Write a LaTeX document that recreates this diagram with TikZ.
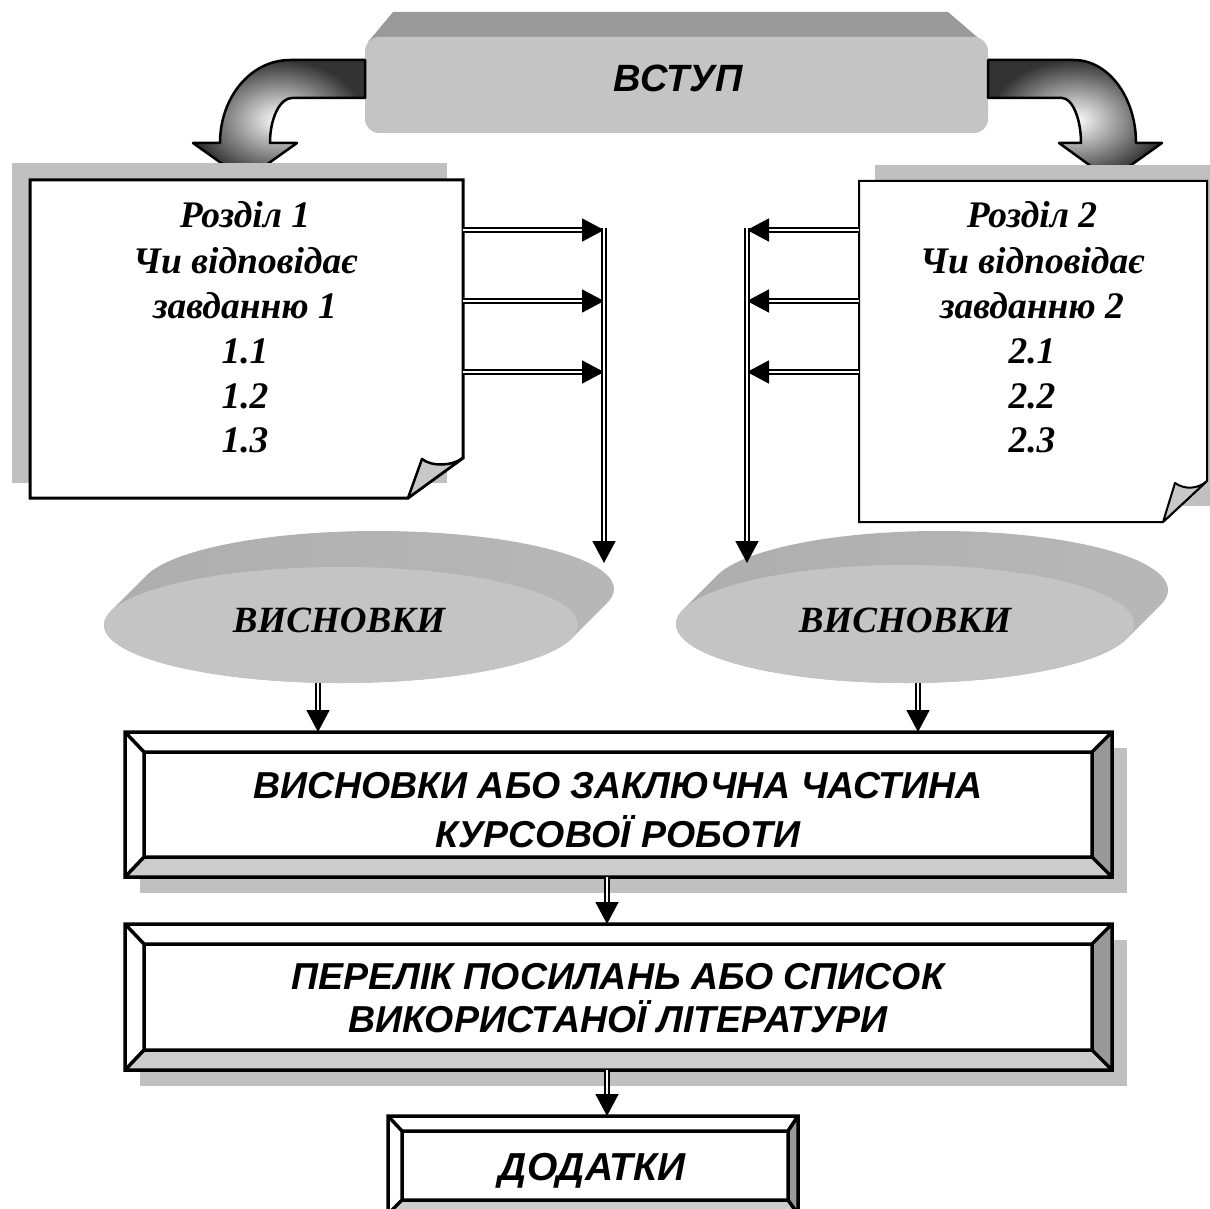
\documentclass[tikz,border=0pt]{standalone}
\usepackage{fontspec}
\setmainfont{Liberation Serif}
\setsansfont{Liberation Sans}
\usetikzlibrary{arrows.meta}
\definecolor{shadowgray}{HTML}{C0C0C0}
\definecolor{facegray}{HTML}{C4C4C4}
\definecolor{topgray}{HTML}{9A9A9A}
\definecolor{bevdark}{HTML}{999999}
\definecolor{bevlight}{HTML}{CCCCCC}
\definecolor{flapgray}{HTML}{C8C8C8}
\newcommand{\bevelbox}[8]{%
  \fill[white] (#1,#2) rectangle (#3,#4);
  \fill[bevdark] (#3,#2) -- (#7,#6) -- (#7,#8) -- (#3,#4) -- cycle;
  \fill[bevlight] (#1,#4) -- (#5,#8) -- (#7,#8) -- (#3,#4) -- cycle;
  \draw[bevline] (#1,#2) rectangle (#3,#4) (#5,#6) rectangle (#7,#8)
    (#1,#2) -- (#5,#6) (#3,#2) -- (#7,#6) (#1,#4) -- (#5,#8) (#3,#4) -- (#7,#8);
}
\begin{document}
\begin{tikzpicture}[x=1pt,y=-1pt,
  serifl/.style={font=\fontsize{37.5}{42}\selectfont\bfseries\itshape, inner sep=0pt, anchor=base},
  sansl/.style={font=\fontsize{37.5}{42}\selectfont\sffamily\bfseries\itshape, inner sep=0pt, anchor=base},
  frame/.style={inner sep=0pt, outer sep=0pt, minimum width=#1},
  bevline/.style={line width=3.5pt, line join=miter},
  docline/.style={line width=3pt, line join=miter},
  dbl/.style={draw=black, double=white, double distance=2.4pt, line width=1.7pt,
    -{Triangle[length=22pt,width=23pt]}},
  tube/.style={draw=black, line width=2.5pt, line join=round, shading=radial,
    inner color=white, outer color=black!80},
  disc side/.style={left color=black!32, middle color=black!42, right color=black!28},
]
\useasboundingbox (0,0) rectangle (1210,1209);

% ---------- ВСТУП box ----------
\fill[topgray] (368,42) -- (393,12) -- (948,12) -- (983,42) -- cycle;
\fill[facegray, rounded corners=14pt] (365,37) rectangle (988,133);
\node[frame=623pt, minimum height=96pt] (vstup) at (676.5,85) {};
\node[sansl, font=\fontsize{38}{42}\selectfont\sffamily\bfseries\itshape] (vstupt) at (678,92) {ВСТУП};

% curved arrows
\shadedraw[tube] (365,60) -- (290,60) .. controls (251,60) and (220,97) .. (220,143)
  -- (193,143) -- (245,180) -- (297,143) -- (270,143)
  .. controls (270,118) and (280,98) .. (292,98) -- (365,98) -- cycle;
\shadedraw[tube] (988,60) -- (1074,60) .. controls (1108,60) and (1136,97) .. (1136,143)
  -- (1162,143) -- (1110,180) -- (1059,143) -- (1081,143)
  .. controls (1081,118) and (1072,98) .. (1062,98) -- (988,98) -- cycle;

% ---------- document boxes ----------
\fill[shadowgray] (12,163) rectangle (447,483);
\fill[shadowgray] (875,165) rectangle (1223,506);
\filldraw[fill=white, docline] (30,180) -- (463,180) -- (463,458) -- (408,498) -- (30,498) -- cycle;
\filldraw[fill=flapgray, line width=2.5pt, line join=round] (408,498) -- (422,459)
  .. controls (432,467) and (452,466) .. (463,458) -- cycle;
\filldraw[fill=white, line width=2pt, line join=miter] (859,181) -- (1207,181) -- (1207,481) -- (1163,522) -- (859,522) -- cycle;
\filldraw[fill=flapgray, line width=2pt, line join=round] (1163,522) -- (1175,483)
  .. controls (1185,490) and (1198,489) .. (1207,481) -- cycle;
\node[frame=433pt, minimum height=318pt] (doc1) at (246.5,339) {};
\node[frame=348pt, minimum height=341pt] (doc2) at (1033,351.5) {};

\node[serifl] (d1a) at (245,228) {Розділ 1};
\node[serifl] (d1b) at (245,273) {Чи відповідає};
\node[serifl] (d1c) at (245,318) {завданню 1};
\node[serifl] (d1d) at (245,363) {1.1};
\node[serifl] (d1e) at (245,408) {1.2};
\node[serifl] (d1f) at (245,452) {1.3};

\node[serifl] (d2a) at (1032,228) {Розділ 2};
\node[serifl] (d2b) at (1032,273) {Чи відповідає};
\node[serifl] (d2c) at (1032,318) {завданню 2};
\node[serifl] (d2d) at (1032,363) {2.1};
\node[serifl] (d2e) at (1032,408) {2.2};
\node[serifl] (d2f) at (1032,452) {2.3};

% ---------- discs ----------
\shade[disc side] \foreach \i in {0,...,36} {(341+\i,625-\i) ellipse [x radius=237pt, y radius=58pt]};
\fill[facegray] (341,625) ellipse [x radius=237pt, y radius=58pt];
\node[frame=474pt, minimum height=116pt] (ell1) at (341,625) {};
\node[serifl, font=\fontsize{37}{42}\selectfont\bfseries\itshape] (ell1t) at (339,632) {ВИСНОВКИ};

\shade[disc side] \foreach \i in {0,...,34} {(905+\i,624-\i) ellipse [x radius=229pt, y radius=59pt]};
\fill[facegray] (905,624) ellipse [x radius=229pt, y radius=59pt];
\node[frame=458pt, minimum height=118pt] (ell2) at (905,624) {};
\node[serifl, font=\fontsize{37}{42}\selectfont\bfseries\itshape] (ell2t) at (905,632) {ВИСНОВКИ};

% ---------- bevel boxes ----------
\fill[shadowgray] (140,748) rectangle (1127,893);
\bevelbox{125}{732}{1112}{877}{144}{752}{1092}{857}
\node[frame=987pt, minimum height=145pt] (box1) at (618.5,804.5) {};
\node[sansl] (box1a) at (618,798) {ВИСНОВКИ АБО ЗАКЛЮЧНА ЧАСТИНА};
\node[sansl] (box1b) at (618,847) {КУРСОВОЇ РОБОТИ};

\fill[shadowgray] (140,940) rectangle (1127,1086);
\bevelbox{125}{924}{1112}{1070}{144}{944}{1092}{1050}
\node[frame=987pt, minimum height=146pt] (box2) at (618.5,997) {};
\node[sansl] (box2a) at (618,989) {ПЕРЕЛІК ПОСИЛАНЬ АБО СПИСОК};
\node[sansl] (box2b) at (618,1032) {ВИКОРИСТАНОЇ ЛІТЕРАТУРИ};

\bevelbox{388}{1116}{798}{1214}{402}{1131}{788}{1200}
\node[frame=410pt, minimum height=98pt] (box3) at (593,1165) {};
\node[sansl, font=\fontsize{39}{42}\selectfont\sffamily\bfseries\itshape] (box3t) at (592,1180) {ДОДАТКИ};

% ---------- connectors ----------
\coordinate (busL) at (604,228);
\coordinate (busLend) at (604,563);
\coordinate (busR) at (747,228);
\coordinate (busRend) at (747,563);
\coordinate (h1) at (0,230);
\coordinate (h2) at (0,301);
\coordinate (h3) at (0,372);
\coordinate (dl) at (318,0);
\coordinate (dr) at (918,0);
\coordinate (mid) at (607,0);

\foreach \h in {h1,h2,h3} {
  \draw[dbl] (doc1.east |- \h) -- (busL |- \h);
  \draw[dbl] (doc2.west |- \h) -- (busR |- \h);
}
\draw[dbl] (busL) -- (busLend);
\draw[dbl] (busR) -- (busRend);
\draw[dbl] (ell1.south -| dl) -- (box1.north -| dl);
\draw[dbl] (ell2.south -| dr) -- (box1.north -| dr);
\draw[dbl] (box1.south -| mid) -- (box2.north -| mid);
\draw[dbl] (box2.south -| mid) -- (box3.north -| mid);
\end{tikzpicture}
\end{document}
